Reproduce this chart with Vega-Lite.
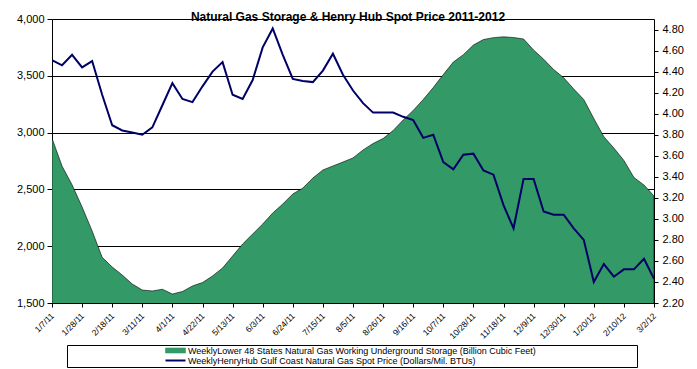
{
  "$schema": "https://vega.github.io/schema/vega-lite/v6.json",
  "autosize": {"type": "none"},
  "padding": {"left": 52, "top": 19, "right": 43, "bottom": 66},
  "width": 602,
  "height": 284,
  "background": "white",
  "title": {
    "text": "Natural Gas Storage & Henry Hub Spot Price 2011-2012",
    "font": "Liberation Sans",
    "fontSize": 12,
    "fontWeight": "bold",
    "color": "black",
    "frame": "group",
    "anchor": "middle",
    "baseline": "alphabetic",
    "offset": -20,
    "dx": -5
  },
  "config": {
    "font": "Liberation Sans",
    "view": {"stroke": null},
    "axis": {"domainColor": "black", "tickColor": "black", "labelColor": "black", "labelFont": "Liberation Sans", "domainWidth": 1, "tickWidth": 1}
  },
  "data": {
    "values": [
      {"date": "1/7/11", "storage": 2950, "price": 4.51},
      {"date": "1/14/11", "storage": 2705, "price": 4.46},
      {"date": "1/21/11", "storage": 2540, "price": 4.56},
      {"date": "1/28/11", "storage": 2345, "price": 4.44},
      {"date": "2/4/11", "storage": 2134, "price": 4.50},
      {"date": "2/11/11", "storage": 1902, "price": 4.18},
      {"date": "2/18/11", "storage": 1817, "price": 3.89},
      {"date": "2/25/11", "storage": 1746, "price": 3.84},
      {"date": "3/4/11", "storage": 1667, "price": 3.82},
      {"date": "3/11/11", "storage": 1614, "price": 3.80},
      {"date": "3/18/11", "storage": 1606, "price": 3.87},
      {"date": "3/25/11", "storage": 1621, "price": 4.08},
      {"date": "4/1/11", "storage": 1579, "price": 4.29},
      {"date": "4/8/11", "storage": 1601, "price": 4.14},
      {"date": "4/15/11", "storage": 1650, "price": 4.11},
      {"date": "4/22/11", "storage": 1680, "price": 4.26},
      {"date": "4/29/11", "storage": 1738, "price": 4.40},
      {"date": "5/6/11", "storage": 1808, "price": 4.49},
      {"date": "5/13/11", "storage": 1914, "price": 4.18},
      {"date": "5/20/11", "storage": 2019, "price": 4.14},
      {"date": "5/27/11", "storage": 2107, "price": 4.32},
      {"date": "6/3/11", "storage": 2195, "price": 4.63},
      {"date": "6/10/11", "storage": 2292, "price": 4.81},
      {"date": "6/17/11", "storage": 2371, "price": 4.56},
      {"date": "6/24/11", "storage": 2460, "price": 4.33},
      {"date": "7/1/11", "storage": 2512, "price": 4.31},
      {"date": "7/8/11", "storage": 2600, "price": 4.30},
      {"date": "7/15/11", "storage": 2671, "price": 4.41},
      {"date": "7/22/11", "storage": 2706, "price": 4.57},
      {"date": "7/29/11", "storage": 2741, "price": 4.37},
      {"date": "8/5/11", "storage": 2777, "price": 4.22},
      {"date": "8/12/11", "storage": 2847, "price": 4.10},
      {"date": "8/19/11", "storage": 2904, "price": 4.01},
      {"date": "8/26/11", "storage": 2948, "price": 4.01},
      {"date": "9/2/11", "storage": 3018, "price": 4.01},
      {"date": "9/9/11", "storage": 3111, "price": 3.97},
      {"date": "9/16/11", "storage": 3195, "price": 3.94},
      {"date": "9/23/11", "storage": 3291, "price": 3.77},
      {"date": "9/30/11", "storage": 3397, "price": 3.80},
      {"date": "10/7/11", "storage": 3511, "price": 3.54},
      {"date": "10/14/11", "storage": 3621, "price": 3.47},
      {"date": "10/21/11", "storage": 3686, "price": 3.61},
      {"date": "10/28/11", "storage": 3771, "price": 3.62},
      {"date": "11/4/11", "storage": 3819, "price": 3.46},
      {"date": "11/11/11", "storage": 3836, "price": 3.42},
      {"date": "11/18/11", "storage": 3843, "price": 3.13},
      {"date": "11/25/11", "storage": 3837, "price": 2.91},
      {"date": "12/2/11", "storage": 3824, "price": 3.38},
      {"date": "12/9/11", "storage": 3727, "price": 3.38},
      {"date": "12/16/11", "storage": 3646, "price": 3.07},
      {"date": "12/23/11", "storage": 3555, "price": 3.04},
      {"date": "12/30/11", "storage": 3483, "price": 3.04},
      {"date": "1/6/12", "storage": 3384, "price": 2.91},
      {"date": "1/13/12", "storage": 3291, "price": 2.80},
      {"date": "1/20/12", "storage": 3124, "price": 2.40},
      {"date": "1/27/12", "storage": 2964, "price": 2.57},
      {"date": "2/3/12", "storage": 2864, "price": 2.45},
      {"date": "2/10/12", "storage": 2755, "price": 2.52},
      {"date": "2/17/12", "storage": 2605, "price": 2.52},
      {"date": "2/24/12", "storage": 2539, "price": 2.62},
      {"date": "3/2/12", "storage": 2442, "price": 2.43}
    ]
  },
  "encoding": {
    "x": {
      "field": "date",
      "type": "ordinal",
      "sort": null,
      "scale": {"type": "point", "padding": 0},
      "axis": {
        "title": null,
        "values": ["1/7/11", "1/28/11", "2/18/11", "3/11/11", "4/1/11", "4/22/11", "5/13/11", "6/3/11", "6/24/11", "7/15/11", "8/5/11", "8/26/11", "9/16/11", "10/7/11", "10/28/11", "11/18/11", "12/9/11", "12/30/11", "1/20/12", "2/10/12", "3/2/12"],
        "labelAngle": -45,
        "labelAlign": "right",
        "labelBaseline": "middle",
        "labelFontSize": 8.5,
        "labelPadding": 7,
        "tickSize": 4,
        "grid": false,
        "labelOverlap": false,
        "labelFlush": false
      }
    }
  },
  "layer": [
    {
      "mark": {"type": "area", "stroke": "black", "strokeWidth": 0.6, "clip": true},
      "encoding": {
        "y": {
          "field": "storage",
          "type": "quantitative",
          "scale": {"domain": [1500, 4000], "zero": false, "nice": false},
          "axis": {
            "title": null,
            "values": [1500, 2000, 2500, 3000, 3500, 4000],
            "format": ",d",
            "grid": true,
            "gridColor": "black",
            "gridOpacity": 1,
            "gridWidth": 1,
            "tickSize": 5,
            "labelFontSize": 11,
            "labelPadding": 3,
            "labelFlush": false,
            "labelOverlap": false
          }
        },
        "color": {
          "datum": "WeeklyLower 48 States Natural Gas Working Underground Storage  (Billion Cubic Feet)",
          "scale": {
            "domain": ["WeeklyLower 48 States Natural Gas Working Underground Storage  (Billion Cubic Feet)", "WeeklyHenryHub Gulf Coast Natural Gas Spot Price (Dollars/Mil. BTUs)"],
            "range": ["#339966", "#000066"]
          },
          "legend": {
            "orient": "none",
            "legendX": 15,
            "legendY": 326,
            "direction": "vertical",
            "title": " ",
            "titleOrient": "right",
            "titlePadding": 98,
            "titleFontSize": 9,
            "padding": 1,
            "strokeColor": "black",
            "fillColor": "white",
            "labelFontSize": 9,
            "labelColor": "black",
            "labelLimit": 600,
            "labelOffset": 2,
            "rowPadding": -4,
            "symbolSize": 16,
            "symbolOffset": 109,
            "encoding": {
              "symbols": {
                "shape": {"value": {"expr": "datum.index === 0 ? 'M-8,-1.25H2V1.25H-8Z' : 'M-8,0H2'"}},
                "fill": {"value": {"expr": "datum.index === 0 ? '#339966' : 'transparent'"}},
                "stroke": {"value": {"expr": "datum.index === 0 ? '#1a4d33' : '#000066'"}},
                "strokeWidth": {"value": {"expr": "datum.index === 0 ? 0.6 : 2"}}
              }
            }
          }
        }
      }
    },
    {
      "mark": {"type": "line", "strokeWidth": 2, "clip": true},
      "encoding": {
        "y": {
          "field": "price",
          "type": "quantitative",
          "scale": {"domain": [2.2, 4.9], "zero": false, "nice": false},
          "axis": {
            "title": null,
            "orient": "right",
            "values": [2.2, 2.4, 2.6, 2.8, 3.0, 3.2, 3.4, 3.6, 3.8, 4.0, 4.2, 4.4, 4.6, 4.8],
            "format": ".2f",
            "grid": false,
            "tickSize": 4,
            "labelFontSize": 11,
            "labelPadding": 4,
            "labelFlush": false,
            "labelOverlap": false
          }
        },
        "color": {"datum": "WeeklyHenryHub Gulf Coast Natural Gas Spot Price (Dollars/Mil. BTUs)"}
      }
    }
  ],
  "resolve": {"scale": {"y": "independent"}}
}
